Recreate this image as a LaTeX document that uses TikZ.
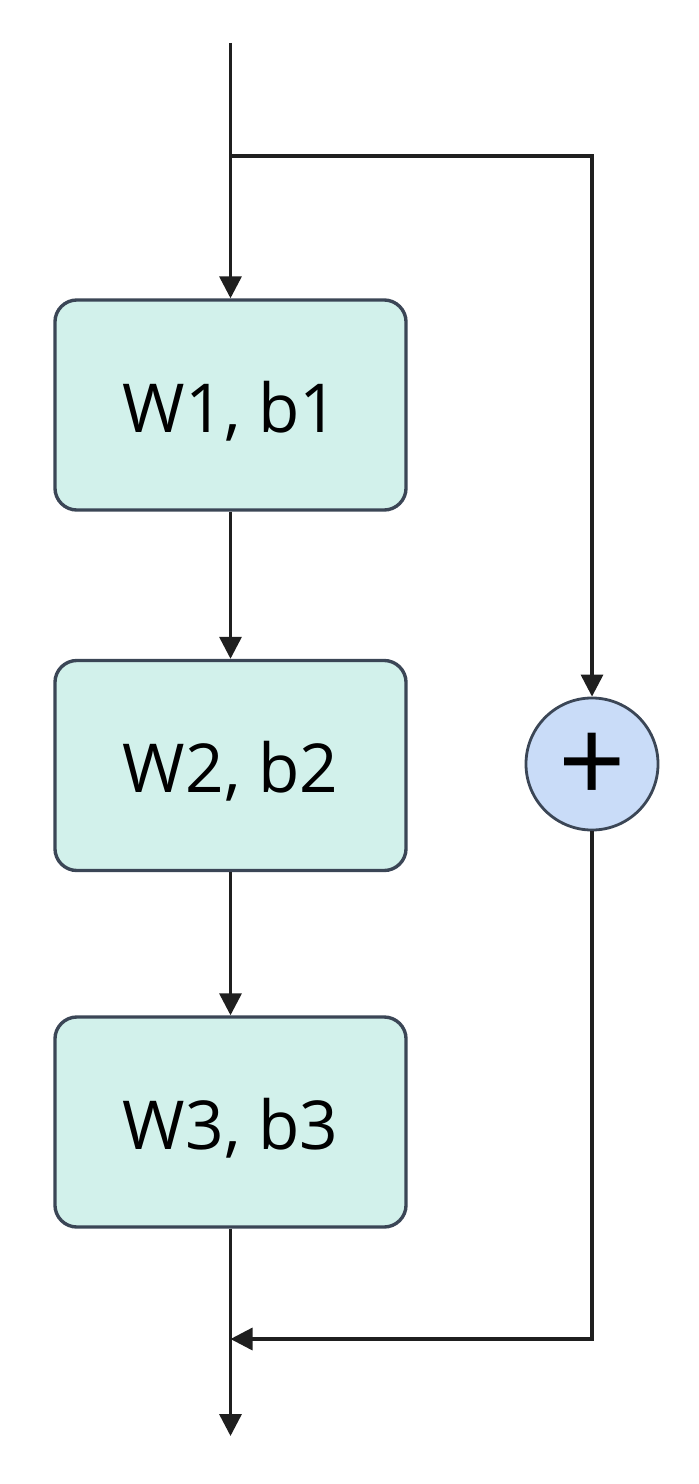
\documentclass[tikz,border=0pt]{standalone}
\usepackage{fontspec}
\setmainfont{Open Sans}
\usetikzlibrary{arrows.meta}

\definecolor{fondbloc}{HTML}{D2F1EB}
\definecolor{fondsomme}{HTML}{C9DCF8}
\definecolor{bordbloc}{HTML}{3B4656}

\tikzset{
  bloc/.style={draw=bordbloc, line width=2.4pt, fill=fondbloc, rounded corners=0.55cm,
    minimum width=8.775cm, minimum height=5.25cm, inner sep=0pt,
    text height=1.35cm, text depth=0pt, font=\fontsize{48}{56}\selectfont},
  somme/.style={circle, draw=bordbloc, line width=2pt, fill=fondsomme,
    minimum size=3.3cm, inner sep=0pt, text height=1.95cm, text depth=0pt,
    font=\fontsize{84}{90}\selectfont},
  fleche/.style={line width=2.4pt, draw=black!88, -{Triangle[length=0.55cm, width=0.55cm]}},
}

\begin{document}
\begin{tikzpicture}[x=0.025cm, y=-0.025cm]

% Cadre
\useasboundingbox (0,0) rectangle (698,1484);

% Blocs
\node[bloc] (b1) at (230.5,405) {W1, b1};
\node[bloc] (b2) at (230.5,765.5) {W2, b2};
\node[bloc] (b3) at (230.5,1122) {W3, b3};

% Addition
\node[somme] (plus) at (592,764) {+};

% Points de passage
\coordinate (entree) at (230.5,43);
\coordinate (branche) at (230.5,156);
\coordinate (coin) at (592,156);
\coordinate (fusion) at (230.5,1339);
\coordinate (sortie) at (230.5,1436);

% Connexions
\draw[fleche] (entree) -- (b1);
\draw[fleche] (b1) -- (b2);
\draw[fleche] (b2) -- (b3);
\draw[fleche] (branche) -- (coin) -- (plus);
\draw[fleche] (plus) |- (fusion);
\draw[fleche] (b3) -- (sortie);

\end{tikzpicture}
\end{document}
